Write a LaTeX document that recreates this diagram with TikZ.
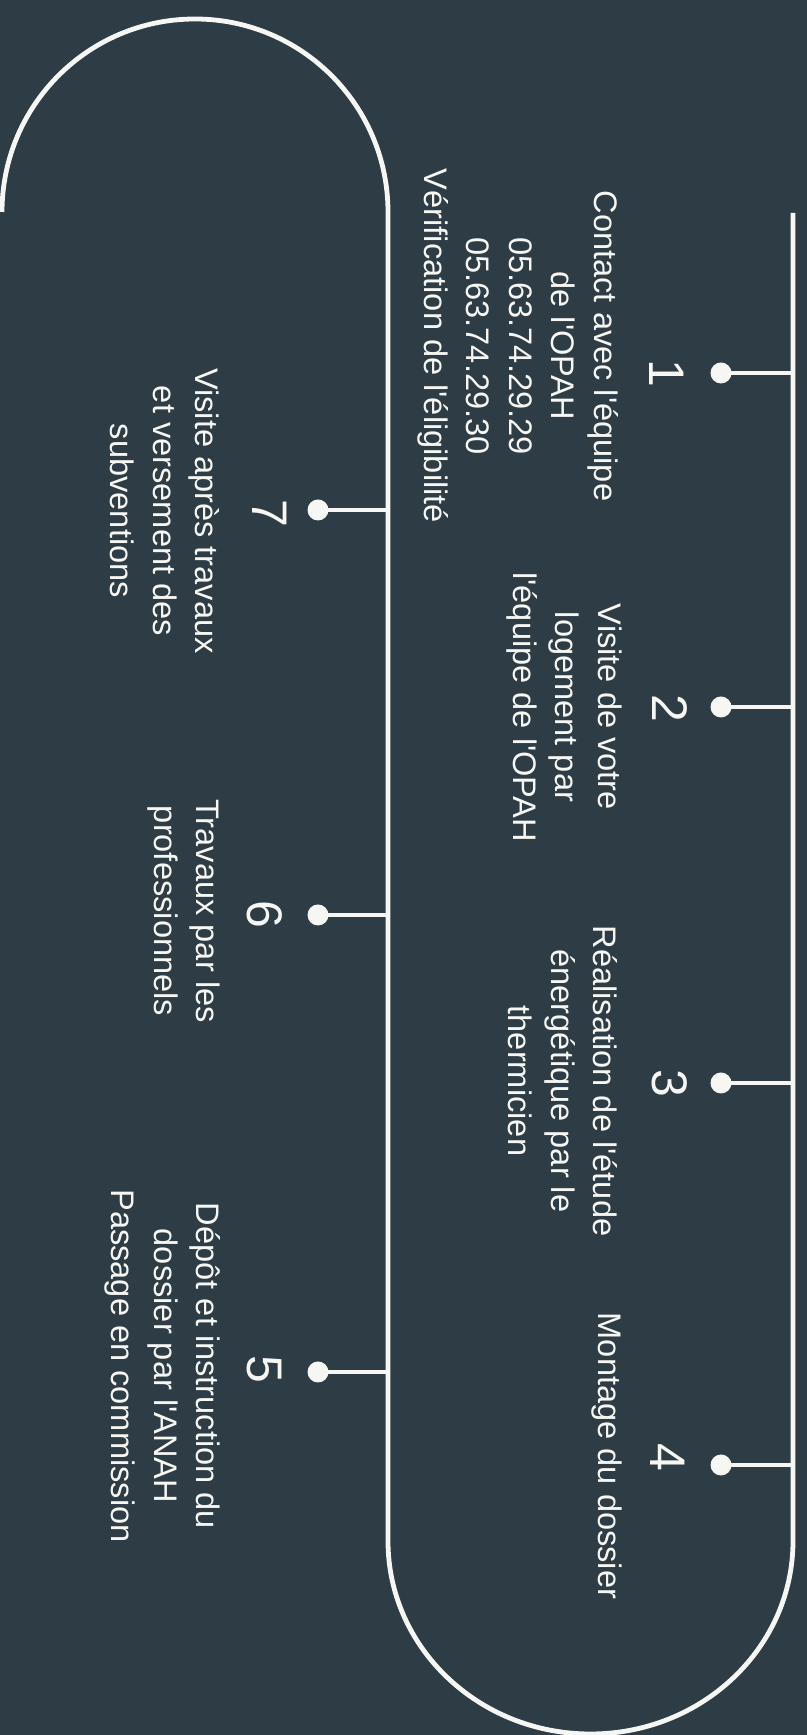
\documentclass[tikz,border=0pt]{standalone}
\usepackage{fontspec}
\setmainfont{Liberation Sans}[Ligatures=TeXOff]
\definecolor{bg}{RGB}{46,60,70}
\definecolor{fg}{RGB}{246,246,242}
\begin{document}
\begin{tikzpicture}[x=0.5pt,y=0.5pt,
  track/.style={draw=fg, line width=2.4pt},
  tickline/.style={draw=fg, line width=2pt},
  dot/.style={circle, fill=fg, inner sep=0pt, minimum size=10.5pt},
  num/.style={text=fg, font=\fontsize{25}{30}\selectfont, rotate=-90, inner sep=0pt},
  desc/.style={text=fg, font=\fontsize{16.3}{21.25}\selectfont, rotate=-90, align=center, inner sep=0pt}]
\fill[bg] (0,0) rectangle (807,1735);
\useasboundingbox (0,0) rectangle (807,1735);
% track
\draw[track] (2,1523) arc[start angle=180, end angle=0, radius=193]
  -- (388,194) arc[start angle=180, end angle=360, x radius=202.5, y radius=193]
  -- (793,1522);
% points on track
\coordinate (p1) at (793,1362);
\coordinate (p2) at (793,1028);
\coordinate (p3) at (793,652);
\coordinate (p4) at (793,270);
\coordinate (p5) at (388,363);
\coordinate (p6) at (388,820);
\coordinate (p7) at (388,1225);
% dots
\node[dot] (d1) at (721,1362) {};
\node[dot] (d2) at (721,1028) {};
\node[dot] (d3) at (721,652) {};
\node[dot] (d4) at (721,270) {};
\node[dot] (d5) at (318,363) {};
\node[dot] (d6) at (318,820) {};
\node[dot] (d7) at (318,1225) {};
\foreach \i in {1,...,7} {\draw[tickline] (d\i.center) -- (p\i);}
% numbers
\node[num] (n1) at (667,1362) {1};
\node[num] (n2) at (670,1027) {2};
\node[num] (n3) at (670,652) {3};
\node[num] (n4) at (668,278) {4};
\node[num] (n5) at (264,366) {5};
\node[num] (n6) at (265,821) {6};
\node[num] (n7) at (270,1222) {7};
% texts
\node[desc] (t1) at (518,1389) {Contact avec l'équipe\\de l'OPAH\\05.63.74.29.29\\05.63.74.29.30\\Vérification de l'éligibilité};
\node[desc] (t2) at (564,1028) {Visite de votre\\logement par\\l'équipe de l'OPAH};
\node[desc] (t3) at (563,654) {Réalisation de l'étude\\énergétique par le\\thermicien};
\node[desc] (t4) at (607,279) {Montage du dossier};
\node[desc] (t5) at (163,369) {Dépôt et instruction du\\dossier par l'ANAH\\Passage en commission};
\node[desc] (t6) at (184,824) {Travaux par les\\professionnels};
\node[desc] (t7) at (165,1224) {Visite après travaux\\et versement des\\subventions};
\end{tikzpicture}
\end{document}
